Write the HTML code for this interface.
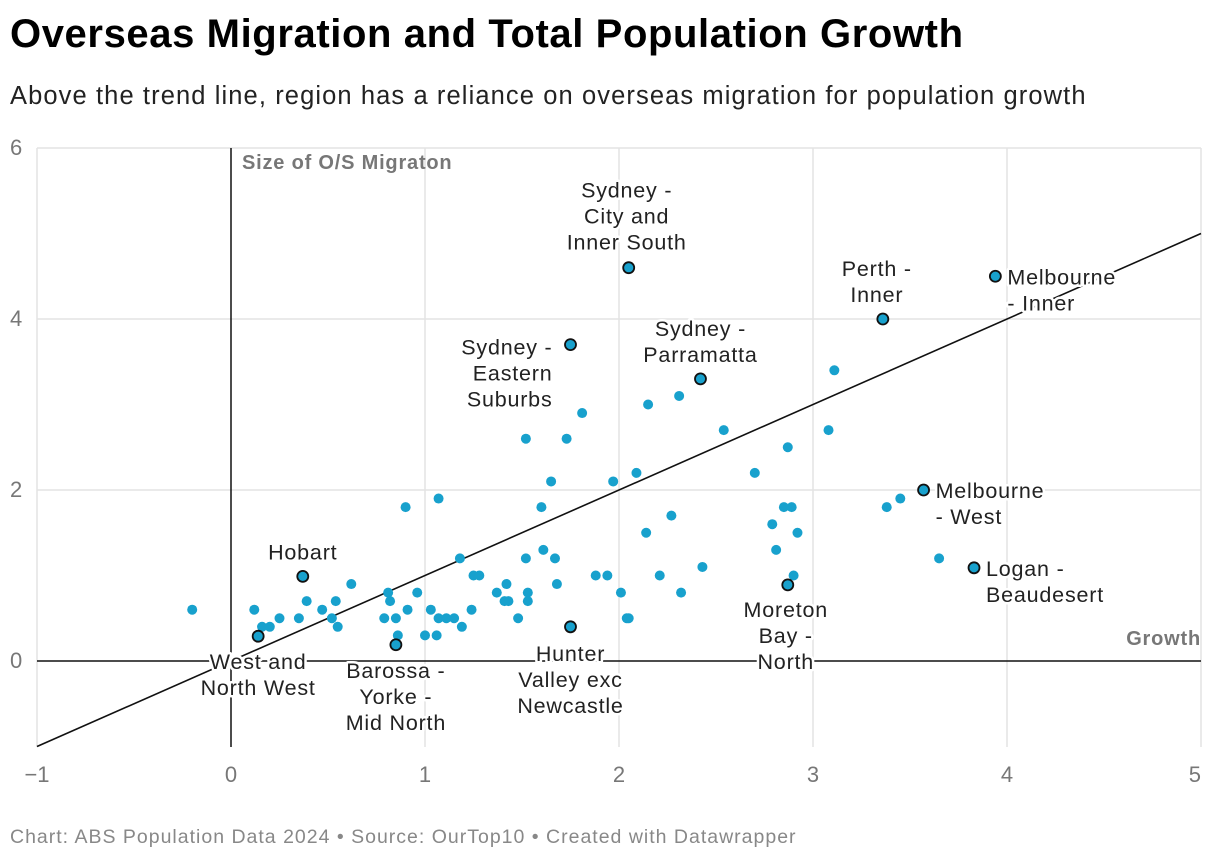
<!DOCTYPE html>
<html><head><meta charset="utf-8">
<style>
body{margin:0;background:#fff;width:1220px;height:864px;overflow:hidden;font-family:"Liberation Sans",Arial,sans-serif}
h1{position:absolute;left:10px;top:12px;margin:0;font-size:40px;font-weight:bold;color:#000;letter-spacing:0.6px}
.sub{position:absolute;left:10px;top:82px;font-size:25.5px;color:#222;letter-spacing:1.1px}
.foot{position:absolute;left:10px;top:826px;font-size:19.5px;color:#888;letter-spacing:1px}
svg{position:absolute;left:0;top:0}
.lbl{font-size:21.5px;letter-spacing:0.8px;fill:#222;stroke:#fff;stroke-width:5px;paint-order:stroke;stroke-linejoin:round}
</style></head><body>
<h1>Overseas Migration and Total Population Growth</h1>
<div class="sub">Above the trend line, region has a reliance on overseas migration for population growth</div>
<svg id="c" width="1220" height="864"></svg>
<div class="foot">Chart: ABS Population Data 2024 • Source: OurTop10 • Created with Datawrapper</div>
<script>
const growth=[-0.2,0.12,0.16,0.2,0.25,0.35,0.39,0.47,0.52,0.54,0.55,0.62,0.81,0.82,0.79,0.85,0.86,0.9,0.91,0.96,1.0,1.03,1.06,1.07,1.07,1.11,1.15,1.18,1.19,1.24,1.25,1.28,1.37,1.41,1.42,1.43,1.48,1.52,1.52,1.53,1.53,1.6,1.61,1.65,1.67,1.68,1.73,1.81,1.88,1.94,1.97,2.01,2.04,2.05,2.09,2.14,2.15,2.21,2.27,2.31,2.32,2.43,2.54,2.7,2.79,2.81,2.85,2.87,2.89,2.9,2.92,3.08,3.11,3.38,3.45,3.65];
const migration=[0.6,0.6,0.4,0.4,0.5,0.5,0.7,0.6,0.5,0.7,0.4,0.9,0.8,0.7,0.5,0.5,0.3,1.8,0.6,0.8,0.3,0.6,0.3,0.5,1.9,0.5,0.5,1.2,0.4,0.6,1.0,1.0,0.8,0.7,0.9,0.7,0.5,2.6,1.2,0.8,0.7,1.8,1.3,2.1,1.2,0.9,2.6,2.9,1.0,1.0,2.1,0.8,0.5,0.5,2.2,1.5,3.0,1.0,1.7,3.1,0.8,1.1,2.7,2.2,1.6,1.3,1.8,2.5,1.8,1.0,1.5,2.7,3.4,1.8,1.9,1.2];
const hlNames=[["Sydney -","City and","Inner South"],["Melbourne","- Inner"],["Perth -","Inner"],["Sydney -","Eastern","Suburbs"],["Sydney -","Parramatta"],["Melbourne","- West"],["Logan -","Beaudesert"],["Moreton","Bay -","North"],["Hobart"],["West and","North West"],["Barossa -","Yorke -","Mid North"],["Hunter","Valley exc","Newcastle"]];
const hlGrowth=[2.05,3.94,3.36,1.75,2.42,3.57,3.83,2.87,0.37,0.14,0.85,1.75];
const hlMig=[4.6,4.5,4.0,3.7,3.3,2.0,1.09,0.89,0.99,0.29,0.19,0.4];
const xTicks=[-1,0,1,2,3,4,5];
const yTicks=[0,2,4,6];
const lblPos=[[-2,-70,"middle"],[12,8,"start"],[-6,-43,"middle"],[-18,10,"end"],[0,-43,"middle"],[12,8,"start"],[12,8,"start"],[-2,32,"middle"],[0,-17,"middle"],[0,33,"middle"],[0,33,"middle"],[0,34,"middle"]];
const X=v=>231+v*194, Y=v=>661-v*85.5;
const svg=document.getElementById('c'), NS="http://www.w3.org/2000/svg";
function mk(t,a,p){const e=document.createElementNS(NS,t);for(const k in a)e.setAttribute(k,a[k]);(p||svg).appendChild(e);return e;}
xTicks.forEach(v=>{
  if(v!==0){const l=mk('line',{x1:X(v),x2:X(v),y1:148,y2:747,stroke:'#e3e3e3','stroke-width':1.5});
  
  }
  const t=mk('text',{x:X(v),y:782,'text-anchor':v===5?'end':'middle','font-size':22,fill:'#777'});
  t.textContent=v<0?'−'+(-v):v;
  
  
});
yTicks.forEach(v=>{
  if(v!==0){const l=mk('line',{x1:37,x2:1201,y1:Y(v),y2:Y(v),stroke:'#e3e3e3','stroke-width':1.5});
  
  }
  const t=mk('text',{x:10,y:Y(v)+7,'font-size':22,fill:'#777'});
  t.textContent=v;
  
  
});
let a=mk('line',{x1:37,x2:1201,y1:Y(0),y2:Y(0),stroke:'#111','stroke-width':1.5});


a=mk('line',{x1:X(0),x2:X(0),y1:148,y2:747,stroke:'#111','stroke-width':1.5});


let t=mk('text',{x:242,y:169,'font-size':20,'font-weight':'bold',fill:'#777','letter-spacing':0.8});t.textContent='Size of O/S Migraton';


t=mk('text',{x:1201,y:645,'text-anchor':'end','font-size':20,'font-weight':'bold',fill:'#777','letter-spacing':0.8});t.textContent='Growth';


a=mk('line',{x1:X(-1),y1:Y(-1),x2:X(5),y2:Y(5),stroke:'#111','stroke-width':1.6});


growth.forEach((g,i)=>{
  const c=mk('circle',{cx:X(g),cy:Y(migration[i]),r:5,fill:'#18a1cd'});
  
  
});
hlGrowth.forEach((g,i)=>{
  const cx=X(g),cy=Y(hlMig[i]);
  const p=lblPos[i];
  const tx=mk('text',{x:cx+p[0],y:cy+p[1],'text-anchor':p[2],class:'lbl'});
  
  
  hlNames[i].forEach((s,j)=>{const ts=mk('tspan',{x:cx+p[0],dy:j?26:0},tx);ts.textContent=s;});
});
hlGrowth.forEach((g,i)=>{
  const c=mk('circle',{cx:X(g),cy:Y(hlMig[i]),r:5.5,fill:'#18a1cd',stroke:'#111','stroke-width':1.8});
  
  
});
</script>
</body></html>
